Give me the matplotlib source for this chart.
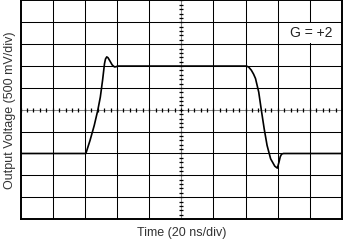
import numpy as np
import matplotlib.pyplot as plt
from matplotlib.patches import Rectangle

plt.rcParams['font.family'] = ['Liberation Sans', 'DejaVu Sans']

# waveform, in scope divisions (x: 20 ns/div, y: 500 mV/div)
time_div = [0.0, 2.03, 2.16, 2.29, 2.40, 2.48, 2.55, 2.61, 2.64, 2.68, 2.72,
            2.78, 2.85, 2.92, 2.97, 3.02,
            7.03, 7.10, 7.18, 7.25, 7.31, 7.41, 7.49, 7.58, 7.67, 7.78, 7.91,
            7.99, 8.04, 8.08, 8.12, 8.18, 10.0]
volt_div = [-2.0, -2.0, -1.40, -0.72, -0.03, 0.58, 1.35, 2.11, 2.32, 2.42, 2.38,
            2.23, 2.05, 1.96, 1.97, 2.0,
            2.0, 1.95, 1.81, 1.63, 1.43, 0.81, 0.0, -0.87, -1.63, -2.24, -2.58,
            -2.67, -2.40, -2.15, -2.03, -2.0, -2.0]

gain_label = "G = +2"
x_label = "Time (20 ns/div)"
y_label = "Output Voltage (500 mV/div)"

n_x_div = 10
n_y_div = 10

fig = plt.figure(figsize=(3.44, 2.41), dpi=100)
ax = fig.add_axes([0.060, 0.091, 0.934, 0.907])

ax.set_xlim(0, n_x_div)
ax.set_ylim(-n_y_div / 2, n_y_div / 2)

xc, yc = n_x_div / 2, 0.0

# retícula
for gx in range(1, n_x_div):
    c = '#888888' if gx == xc else 'black'
    ax.axvline(gx, color=c, lw=0.75, zorder=1)
for gy in range(1, n_y_div):
    v = gy - n_y_div / 2
    c = '#888888' if v == yc else 'black'
    ax.axhline(v, color=c, lw=0.75, zorder=1)

# minor ticks on the centre axes
tx = np.arange(0, n_x_div + 0.001, 0.2)
ty = np.arange(-n_y_div / 2, n_y_div / 2 + 0.001, 0.2)
ax.plot(tx, np.full_like(tx, yc), ls='none', marker='|', ms=3.0, mew=0.9,
        color='black', zorder=2)
ax.plot(np.full_like(ty, xc), ty, ls='none', marker='_', ms=3.0, mew=0.9,
        color='black', zorder=2)

# white box behind the gain label
ax.add_patch(Rectangle((8.06, 3.05), 1.88, 0.9, facecolor='white',
                       edgecolor='none', zorder=3))
ax.text(9.05, 3.5, gain_label, ha='center', va='center', fontsize=10,
        color='#222222', zorder=4)

ax.plot(time_div, volt_div, color='black', lw=1.2, zorder=5,
        solid_joinstyle='round')

ax.set_xticks([])
ax.set_yticks([])
for sp in ax.spines.values():
    sp.set_linewidth(1.4)

ax.set_xlabel(x_label, fontsize=9, color='#333333', labelpad=6)
ax.set_ylabel(y_label, fontsize=9, color='#333333', labelpad=3)

fig.savefig('out.png', dpi=100)
